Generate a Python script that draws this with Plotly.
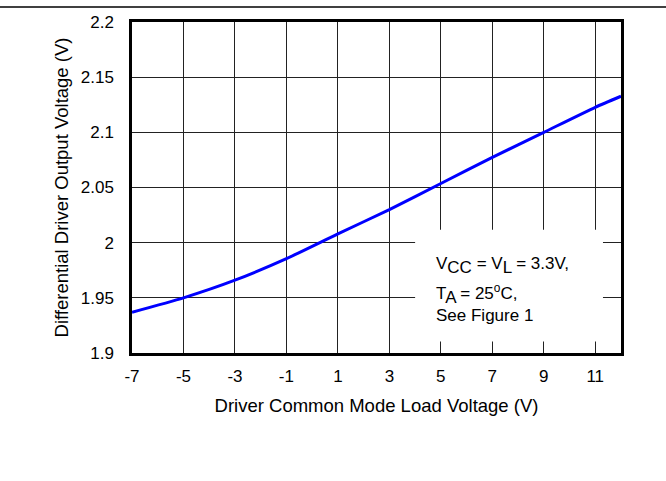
import plotly.graph_objects as go

# Data
load_voltage = [-7, -5, -3, -1, 1, 3, 5, 7, 9, 11, 12]
output_voltage = [1.937, 1.950, 1.966, 1.9855, 2.008, 2.030, 2.0536, 2.0773, 2.100, 2.1227, 2.1327]

x_ticks = [-7, -5, -3, -1, 1, 3, 5, 7, 9, 11]
y_ticks = [1.9, 1.95, 2.0, 2.05, 2.1, 2.15, 2.2]
y_tick_labels = ["1.9", "1.95", "2", "2.05", "2.1", "2.15", "2.2"]

FONT = "Liberation Sans, Arial, sans-serif"

fig = go.Figure()
fig.add_trace(go.Scatter(
    x=load_voltage, y=output_voltage, mode="lines",
    line=dict(color="#0000FF", width=3, shape="spline", smoothing=0.6),
    showlegend=False, hoverinfo="skip"))

# White box behind the annotation text (covers gridlines)
fig.add_shape(type="rect", xref="x", yref="y", x0=4.0, x1=11.3, y0=1.9105, y1=2.0118,
              fillcolor="white", line=dict(width=0), layer="between")

# Top rule
fig.add_shape(type="line", xref="paper", yref="paper", x0=-0.3, x1=1.2, y0=1.0453, y1=1.0453,
              line=dict(color="black", width=1.5))

ann_font = dict(family=FONT, size=17, color="black")
fig.add_annotation(x=4.75, y=1.9795, xref="x", yref="y", xanchor="left", yanchor="middle",
                   text="V<sub><span style='font-size:17px'>CC</span></sub> = V<sub><span style='font-size:17px'>L</span></sub> = 3.3V,",
                   showarrow=False, font=ann_font)
fig.add_annotation(x=4.75, y=1.9536, xref="x", yref="y", xanchor="left", yanchor="middle",
                   text="T<sub><span style='font-size:17px'>A</span></sub> = 25<sup>o</sup>C,",
                   showarrow=False, font=ann_font)
fig.add_annotation(x=4.75, y=1.934, xref="x", yref="y", xanchor="left", yanchor="middle",
                   text="See Figure 1", showarrow=False, font=ann_font)

fig.update_layout(
    width=666, height=481,
    margin=dict(l=132, r=45, t=22, b=128),
    paper_bgcolor="white", plot_bgcolor="white",
    font=dict(family=FONT, size=15, color="black"),
    xaxis=dict(
        range=[-7, 12], tickvals=x_ticks, ticktext=[str(v) for v in x_ticks],
        showgrid=True, gridcolor="#222", gridwidth=1,
        showline=True, linecolor="black", linewidth=2.5, mirror=True,
        ticks="", ticklabelstandoff=6, zeroline=False,
        title=dict(text="Driver Common Mode Load Voltage (V)", standoff=14,
                   font=dict(family=FONT, size=18.5)),
        tickfont=dict(family=FONT, size=17),
    ),
    yaxis=dict(
        range=[1.9, 2.2], tickvals=y_ticks, ticktext=y_tick_labels,
        showgrid=True, gridcolor="#222", gridwidth=1,
        showline=True, linecolor="black", linewidth=2.5, mirror=True,
        ticks="", ticklabelstandoff=12, zeroline=False,
        title=dict(text="Differential Driver Output Voltage (V)", standoff=8,
                   font=dict(family=FONT, size=18.5)),
        tickfont=dict(family=FONT, size=17),
    ),
)

fig.write_html("out.html", config={"displayModeBar": False},
               post_script="document.body.style.margin='0';")
